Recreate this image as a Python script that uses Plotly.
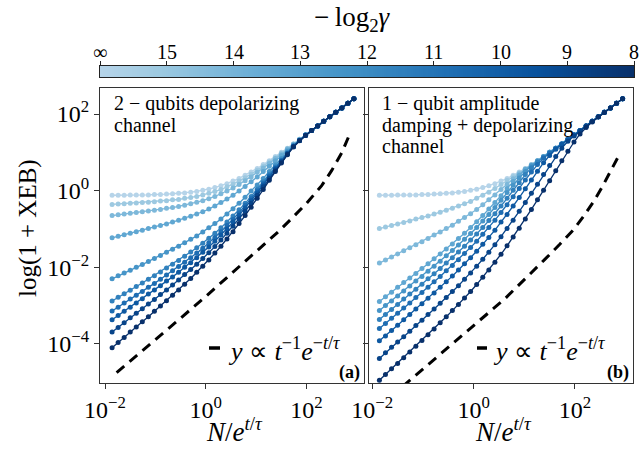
import plotly.graph_objects as go
import plotly.colors as pc

# ---------------- data (log10 values) ----------------
x_log10 = [-1.86,-1.74,-1.62,-1.50,-1.38,-1.26,-1.14,-1.02,-0.90,-0.78,-0.66,-0.54,-0.42,-0.30,-0.18,-0.06,
           0.06,0.18,0.30,0.42,0.54,0.66,0.78,0.90,1.02,1.14,1.26,1.38,1.50,1.62,1.74,1.86,1.98,2.10,2.22,
           2.34,2.46,2.58,2.70,2.82,2.94]

gamma_labels = ["∞", "15", "14", "13", "12", "11", "10", "9", "8"]

# panel (a): 2-qubits depolarizing channel, log10(log(1+XEB))
a_c0 = [-0.12,-0.12,-0.12,-0.11,-0.11,-0.11,-0.11,-0.10,-0.10,-0.09,-0.08,-0.07,-0.06,-0.04,-0.02,0.01,0.04,0.08,0.13,0.18,0.25,0.32,0.40,0.49,0.58,0.68,0.78,0.89,1.00,1.11,1.22,1.34,1.45,1.57,1.69,1.81,1.93,2.05,2.16,2.28,2.40]
a_c1 = [-0.36,-0.35,-0.34,-0.33,-0.32,-0.31,-0.30,-0.29,-0.27,-0.26,-0.24,-0.23,-0.20,-0.18,-0.15,-0.11,-0.07,-0.02,0.03,0.10,0.17,0.25,0.34,0.43,0.53,0.64,0.75,0.86,0.98,1.10,1.22,1.34,1.45,1.57,1.69,1.81,1.93,2.05,2.16,2.28,2.40]
a_c2 = [-0.65,-0.63,-0.61,-0.59,-0.57,-0.55,-0.53,-0.51,-0.49,-0.46,-0.44,-0.41,-0.38,-0.34,-0.30,-0.26,-0.21,-0.15,-0.08,-0.01,0.07,0.16,0.26,0.36,0.48,0.59,0.71,0.84,0.96,1.09,1.21,1.33,1.45,1.57,1.69,1.81,1.93,2.05,2.16,2.28,2.40]
a_c3 = [-1.23,-1.19,-1.15,-1.11,-1.07,-1.03,-0.99,-0.95,-0.91,-0.87,-0.82,-0.77,-0.72,-0.67,-0.61,-0.55,-0.48,-0.40,-0.31,-0.22,-0.12,-0.01,0.11,0.23,0.36,0.50,0.64,0.78,0.92,1.06,1.20,1.33,1.45,1.57,1.69,1.81,1.93,2.05,2.16,2.28,2.40]
a_c4 = [-2.30,-2.22,-2.15,-2.08,-2.00,-1.93,-1.85,-1.77,-1.69,-1.61,-1.53,-1.45,-1.36,-1.27,-1.18,-1.08,-0.97,-0.86,-0.74,-0.61,-0.47,-0.33,-0.17,-0.01,0.15,0.32,0.50,0.67,0.84,1.02,1.18,1.32,1.45,1.57,1.69,1.81,1.93,2.05,2.16,2.28,2.40]
a_c5 = [-2.88,-2.78,-2.69,-2.60,-2.50,-2.41,-2.31,-2.22,-2.12,-2.02,-1.92,-1.82,-1.71,-1.60,-1.49,-1.37,-1.24,-1.11,-0.97,-0.82,-0.66,-0.50,-0.33,-0.15,0.04,0.23,0.43,0.62,0.80,0.99,1.17,1.31,1.45,1.57,1.69,1.81,1.93,2.05,2.16,2.28,2.40]
a_c6 = [-3.14,-3.04,-2.93,-2.83,-2.73,-2.63,-2.52,-2.42,-2.31,-2.20,-2.09,-1.98,-1.87,-1.75,-1.63,-1.50,-1.36,-1.22,-1.07,-0.91,-0.75,-0.58,-0.39,-0.21,-0.01,0.19,0.39,0.59,0.79,0.98,1.16,1.31,1.45,1.57,1.69,1.81,1.93,2.05,2.16,2.28,2.40]
a_c7 = [-3.37,-3.26,-3.15,-3.04,-2.93,-2.82,-2.70,-2.59,-2.48,-2.36,-2.25,-2.13,-2.00,-1.88,-1.75,-1.61,-1.47,-1.32,-1.16,-1.00,-0.82,-0.64,-0.45,-0.26,-0.06,0.15,0.36,0.57,0.77,0.97,1.16,1.31,1.44,1.57,1.69,1.81,1.93,2.05,2.16,2.28,2.40]
a_c8 = [-3.69,-3.57,-3.45,-3.32,-3.20,-3.08,-2.96,-2.84,-2.71,-2.59,-2.46,-2.33,-2.19,-2.06,-1.92,-1.77,-1.62,-1.46,-1.29,-1.11,-0.93,-0.74,-0.54,-0.33,-0.12,0.10,0.32,0.54,0.75,0.96,1.15,1.31,1.44,1.57,1.69,1.81,1.93,2.05,2.16,2.28,2.40]
a_c9 = [-4.10,-3.96,-3.83,-3.69,-3.56,-3.42,-3.29,-3.15,-3.01,-2.87,-2.73,-2.59,-2.44,-2.29,-2.13,-1.97,-1.81,-1.63,-1.45,-1.26,-1.07,-0.86,-0.65,-0.43,-0.20,0.03,0.27,0.50,0.72,0.94,1.14,1.30,1.44,1.57,1.69,1.81,1.93,2.05,2.16,2.28,2.40]

# panel (b): 1-qubit amplitude damping + depolarizing channel
b_c0 = [-0.12,-0.12,-0.12,-0.11,-0.11,-0.11,-0.11,-0.10,-0.10,-0.09,-0.08,-0.07,-0.06,-0.04,-0.02,0.01,0.04,0.08,0.13,0.18,0.25,0.32,0.40,0.49,0.58,0.68,0.78,0.89,1.00,1.11,1.22,1.34,1.45,1.57,1.69,1.81,1.93,2.05,2.16,2.28,2.40]
b_c1 = [-0.99,-0.95,-0.91,-0.87,-0.83,-0.79,-0.74,-0.70,-0.66,-0.61,-0.56,-0.51,-0.46,-0.40,-0.34,-0.28,-0.20,-0.12,-0.04,0.06,0.16,0.27,0.37,0.47,0.57,0.68,0.78,0.89,1.00,1.11,1.22,1.34,1.45,1.57,1.69,1.81,1.93,2.05,2.16,2.28,2.40]
b_c2 = [-1.89,-1.81,-1.73,-1.65,-1.57,-1.49,-1.41,-1.33,-1.25,-1.16,-1.08,-0.99,-0.90,-0.80,-0.70,-0.60,-0.49,-0.37,-0.24,-0.11,0.03,0.17,0.31,0.44,0.56,0.67,0.78,0.89,1.00,1.11,1.22,1.34,1.45,1.57,1.69,1.81,1.93,2.05,2.16,2.28,2.40]
b_c3 = [-2.89,-2.77,-2.65,-2.52,-2.40,-2.28,-2.16,-2.03,-1.91,-1.78,-1.65,-1.52,-1.39,-1.25,-1.11,-0.96,-0.81,-0.65,-0.48,-0.31,-0.13,0.06,0.24,0.40,0.55,0.66,0.78,0.89,1.00,1.11,1.22,1.34,1.45,1.57,1.69,1.81,1.93,2.05,2.16,2.28,2.40]
b_c4 = [-3.13,-3.00,-2.88,-2.75,-2.62,-2.49,-2.36,-2.24,-2.10,-1.97,-1.84,-1.70,-1.56,-1.42,-1.27,-1.12,-0.96,-0.79,-0.62,-0.44,-0.25,-0.05,0.14,0.33,0.50,0.65,0.77,0.88,1.00,1.11,1.22,1.34,1.45,1.57,1.69,1.81,1.93,2.05,2.16,2.28,2.40]
b_c5 = [-3.36,-3.23,-3.10,-2.97,-2.83,-2.70,-2.57,-2.44,-2.30,-2.17,-2.03,-1.89,-1.75,-1.60,-1.45,-1.29,-1.13,-0.96,-0.78,-0.60,-0.40,-0.20,0.01,0.21,0.42,0.60,0.75,0.87,0.99,1.11,1.22,1.34,1.45,1.57,1.69,1.81,1.93,2.05,2.16,2.28,2.40]
b_c6 = [-3.60,-3.47,-3.33,-3.20,-3.06,-2.93,-2.79,-2.66,-2.52,-2.38,-2.24,-2.09,-1.95,-1.80,-1.64,-1.48,-1.32,-1.14,-0.96,-0.77,-0.57,-0.37,-0.16,0.06,0.28,0.49,0.68,0.85,0.98,1.10,1.22,1.34,1.45,1.57,1.69,1.81,1.93,2.05,2.16,2.28,2.40]
b_c7 = [-3.92,-3.79,-3.65,-3.51,-3.37,-3.23,-3.09,-2.95,-2.81,-2.67,-2.52,-2.38,-2.23,-2.07,-1.91,-1.75,-1.58,-1.40,-1.22,-1.03,-0.82,-0.62,-0.40,-0.18,0.05,0.28,0.51,0.73,0.92,1.08,1.21,1.33,1.45,1.57,1.69,1.81,1.93,2.05,2.16,2.28,2.40]
b_c8 = [-4.38,-4.23,-4.09,-3.95,-3.81,-3.67,-3.52,-3.38,-3.23,-3.09,-2.94,-2.79,-2.63,-2.48,-2.31,-2.15,-1.97,-1.79,-1.61,-1.41,-1.20,-0.99,-0.77,-0.54,-0.31,-0.07,0.17,0.42,0.66,0.89,1.11,1.29,1.43,1.56,1.69,1.81,1.93,2.05,2.16,2.28,2.40]
b_c9 = [-4.95,-4.80,-4.65,-4.51,-4.36,-4.21,-4.06,-3.91,-3.76,-3.61,-3.45,-3.29,-3.13,-2.97,-2.80,-2.63,-2.45,-2.26,-2.07,-1.87,-1.66,-1.44,-1.21,-0.98,-0.74,-0.49,-0.24,0.01,0.26,0.52,0.78,1.03,1.27,1.48,1.65,1.79,1.92,2.04,2.16,2.28,2.40]

# dashed reference curves  y ∝ t^-1 e^{-t/τ}
a_dash_x_log10 = [-1.77,-1.20,-0.60,0.00,0.35,0.80,1.20,1.44,1.71,2.00,2.30,2.50,2.70,2.88]
a_dash_y_log10 = [-4.75,-4.12,-3.44,-2.76,-2.35,-1.83,-1.36,-1.07,-0.72,-0.33,0.13,0.53,0.99,1.55]
b_dash_x_log10 = [-1.40,-1.20,-0.60,0.00,0.61,1.00,1.40,1.70,1.97,2.17,2.37,2.53,2.66,2.78,2.90]
b_dash_y_log10 = [-5.11,-4.88,-4.20,-3.52,-2.83,-2.33,-1.80,-1.40,-1.02,-0.67,-0.28,0.08,0.40,0.70,1.00]

x_tickvals = [1e-2, 1e0, 1e2]
x_ticktext = ["10<sup>−2</sup>", "10<sup>0</sup>", "10<sup>2</sup>"]
y_tickvals = [1e-4, 1e-2, 1e0, 1e2]
y_ticktext = ["10<sup>−4</sup>", "10<sup>−2</sup>", "10<sup>0</sup>", "10<sup>2</sup>"]

a_curves = [a_c0, a_c1, a_c2, a_c3, a_c4, a_c5, a_c6, a_c7, a_c8, a_c9]
b_curves = [b_c0, b_c1, b_c2, b_c3, b_c4, b_c5, b_c6, b_c7, b_c8, b_c9]

# ---------------- styling ----------------
FONT = "Liberation Serif"
W, H = 639, 450
BLUES = [[0.0, "rgb(182,212,233)"], [0.107, "rgb(158,202,225)"], [0.286, "rgb(107,174,214)"],
         [0.464, "rgb(66,146,198)"], [0.643, "rgb(33,113,181)"], [0.821, "rgb(8,81,156)"],
         [1.0, "rgb(8,48,107)"]]
colors = pc.sample_colorscale(BLUES, [k / 9 for k in range(10)])

def px(xp):
    return xp / W

def py(yp):
    return 1 - yp / H

fig = go.Figure()
xs = [10 ** v for v in x_log10]
for curves, xa, ya in [(a_curves, "x", "y"), (b_curves, "x2", "y2")]:
    for k, c in enumerate(curves):
        fig.add_trace(go.Scatter(
            x=xs, y=[10 ** v for v in c], mode="lines+markers",
            line=dict(color=colors[k], width=1.3),
            marker=dict(color=colors[k], size=5),
            xaxis=xa, yaxis=ya, showlegend=False, hoverinfo="skip"))

for dx, dy, xa, ya in [(a_dash_x_log10, a_dash_y_log10, "x", "y"),
                       (b_dash_x_log10, b_dash_y_log10, "x2", "y2")]:
    fig.add_trace(go.Scatter(
        x=[10 ** v for v in dx], y=[10 ** v for v in dy], mode="lines",
        line=dict(color="black", width=3, dash="10px,7px"),
        xaxis=xa, yaxis=ya, showlegend=False, hoverinfo="skip"))

# colour bar drawn as a gradient strip
n = 256
grad_x = [8 * i / (n - 1) for i in range(n)]
fig.add_trace(go.Heatmap(z=[[i / (n - 1) for i in range(n)]], x=grad_x, y=[0.5],
                         colorscale=BLUES, zmin=0, zmax=1, showscale=False,
                         xaxis="x3", yaxis="y3", hoverinfo="skip"))

tickfont = dict(family=FONT, size=24, color="black")
frame = dict(showline=True, mirror=True, linecolor="#333", linewidth=1.3,
             showgrid=False, zeroline=False, ticks="outside", ticklen=5,
             tickwidth=1.2, tickcolor="#333", automargin=False)
ydom = [py(383), py(88)]
CB_L, CB_R = 100, 634
fig.update_layout(
    width=W, height=H, margin=dict(l=0, r=0, t=0, b=0, autoexpand=False),
    paper_bgcolor="white", plot_bgcolor="white",
    xaxis=dict(type="log", range=[-2.10, 3.14], domain=[px(100), px(364)], anchor="y",
               tickvals=x_tickvals, ticktext=x_ticktext, tickfont=tickfont, **frame),
    yaxis=dict(type="log", range=[-5.02, 2.68], domain=ydom, anchor="x",
               tickvals=y_tickvals, ticktext=y_ticktext, tickfont=tickfont, **frame),
    xaxis2=dict(type="log", range=[-2.065, 3.145], domain=[px(369), px(633)], anchor="y2",
                tickvals=x_tickvals, ticktext=x_ticktext, tickfont=tickfont, **frame),
    yaxis2=dict(type="log", range=[-5.02, 2.68], domain=ydom, anchor="x2",
                tickvals=y_tickvals, showticklabels=False, **frame),
    xaxis3=dict(range=[0, 8], domain=[px(CB_L), px(CB_R)], anchor="y3", side="top",
                tickvals=list(range(9)), showticklabels=False,
                showline=True, mirror=True, linecolor="#222", linewidth=1,
                ticks="outside", ticklen=4, tickcolor="#222", showgrid=False,
                zeroline=False, automargin=False),
    yaxis3=dict(range=[0, 1], domain=[py(77), py(66)], anchor="x3", showticklabels=False,
                showline=True, mirror=True, linecolor="#222", linewidth=1,
                ticks="", showgrid=False, zeroline=False, automargin=False),
)

ann = []
def add_text(text, x, y, size, xanchor="center", yanchor="middle", angle=0):
    ann.append(dict(text=text, x=px(x), y=py(y), xref="paper", yref="paper",
                    xanchor=xanchor, yanchor=yanchor, showarrow=False, textangle=angle,
                    font=dict(family=FONT, size=size, color="black")))

# colour-bar tick labels (placed just above the tick marks)
for i, lab in enumerate(gamma_labels):
    add_text(lab, CB_L + (CB_R - CB_L) * i / 8, 52, 20)

add_text("−\u2009log<sub>2</sub><i>γ</i>", 352, 19, 27)
add_text("log(1 + XEB)", 28, 228, 25, angle=-90)
add_text("<i>N</i>/<i>e</i><sup><i>t</i>/<i>τ</i></sup>", 234, 430, 27)
add_text("<i>N</i>/<i>e</i><sup><i>t</i>/<i>τ</i></sup>", 504, 430, 27)
add_text("2 − qubits depolarizing", 112, 104, 20, xanchor="left")
add_text("channel", 112, 125, 20, xanchor="left")
add_text("1 − qubit amplitude", 380, 104, 20, xanchor="left")
add_text("damping + depolarizing", 380, 125, 20, xanchor="left")
add_text("channel", 380, 146, 20, xanchor="left")
leg = "<i>y</i> ∝ <i>t</i><sup>−1</sup><i>e</i><sup>−<i>t</i>/<i>τ</i></sup>"
add_text(leg, 226, 349, 26, xanchor="left")
add_text(leg, 491, 349, 26, xanchor="left")
add_text("<b>(a)</b>", 362, 372, 18, xanchor="right")
add_text("<b>(b)</b>", 631, 372, 18, xanchor="right")
fig.update_layout(annotations=ann)

fig.update_layout(shapes=[
    dict(type="line", xref="paper", yref="paper", x0=px(209), x1=px(220), y0=py(348), y1=py(348),
         line=dict(color="black", width=3.5)),
    dict(type="line", xref="paper", yref="paper", x0=px(477), x1=px(487), y0=py(348), y1=py(348),
         line=dict(color="black", width=3.5)),
])

fig.write_html("out.html")
